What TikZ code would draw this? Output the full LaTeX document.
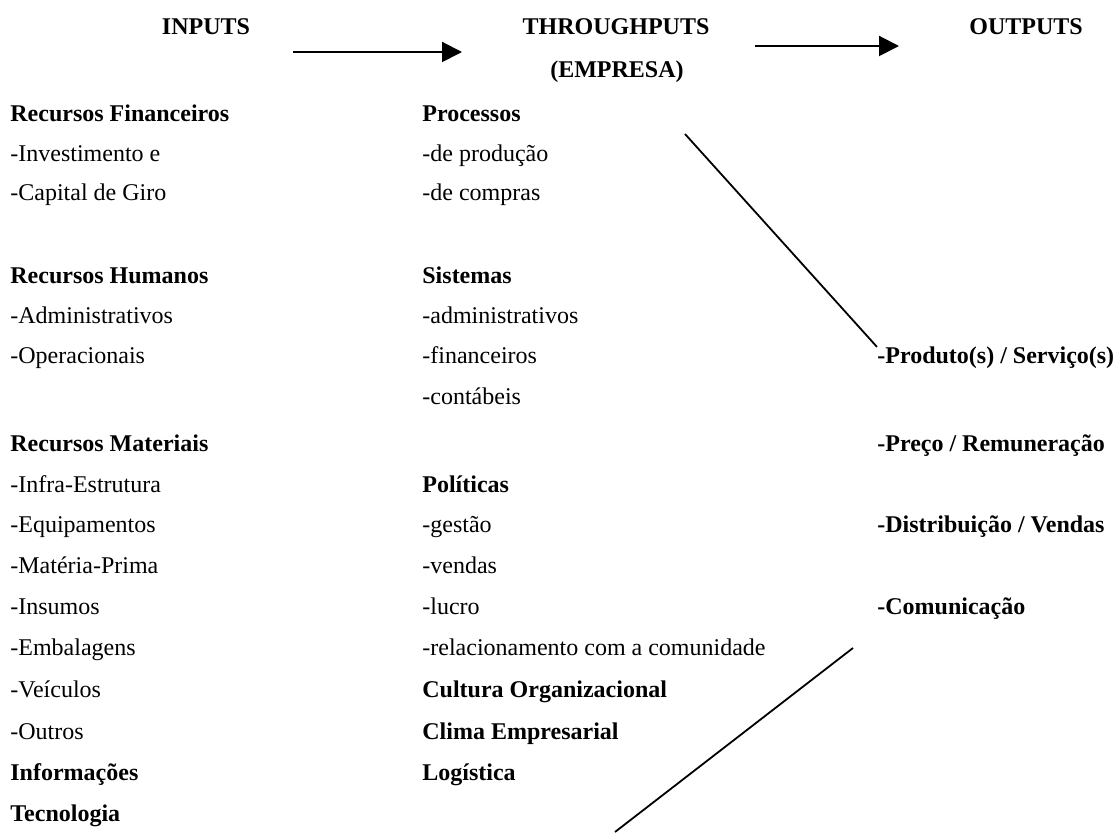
\documentclass[tikz,border=0pt]{standalone}
\usepackage{fontspec}
\setmainfont{Liberation Serif}
\usetikzlibrary{arrows.meta}

\begin{document}
\begin{tikzpicture}[
  x=0.5pt, y=-0.5pt,
  every node/.style={font=\fontsize{12}{14}\selectfont, inner sep=0pt, anchor=base west},
  colhead/.style={font=\fontsize{12}{14}\selectfont\bfseries, anchor=base},
  grouptitle/.style={font=\fontsize{12}{14}\selectfont\bfseries},
  arr/.style={-{Triangle[length=10pt, width=10pt]}, line width=1pt},
  lin/.style={line width=0.9pt},
]
\useasboundingbox (0,0) rectangle (1115,833);

%% ── Column heads ────────────────────────────────────────────────────────────
\node[colhead] (inputs) at (206, 35) {INPUTS};
\node[colhead] (through) at (616, 35) {THROUGHPUTS};
\node[colhead] (empresa) at (617, 78) {(EMPRESA)};
\node[colhead] (outputs) at (1026, 35) {OUTPUTS};

\coordinate (arrAs) at (293, 52);
\coordinate (arrAe) at (462, 52);
\coordinate (arrBs) at (755, 46);
\coordinate (arrBe) at (899, 46);

%% ── Inputs ──────────────────────────────────────────────────────────────────
\node[grouptitle] (recfin) at (10, 122) {Recursos Financeiros};
\node (invest) at (10, 162) {-Investimento e};
\node (capgiro) at (10, 201) {-Capital de Giro};

\node[grouptitle] (rechum) at (10, 284) {Recursos Humanos};
\node (admin) at (10, 324) {-Administrativos};
\node (operac) at (10, 364) {-Operacionais};

\node[grouptitle] (recmat) at (10, 452) {Recursos Materiais};
\node (infra) at (10, 493) {-Infra-Estrutura};
\node (equip) at (10, 533) {-Equipamentos};
\node (matprima) at (10, 574) {-Matéria-Prima};
\node (insumos) at (10, 615) {-Insumos};
\node (embal) at (10, 656) {-Embalagens};
\node (veic) at (10, 698) {-Veículos};
\node (outros) at (10, 740) {-Outros};
\node[grouptitle] (inform) at (10, 781) {Informações};
\node[grouptitle] (tecno) at (10, 822) {Tecnologia};

%% ── Throughputs ─────────────────────────────────────────────────────────────
\node[grouptitle] (proc) at (422, 122) {Processos};
\node (producao) at (422, 162) {-de produção};
\node (compras) at (422, 201) {-de compras};

\node[grouptitle] (sist) at (422, 284) {Sistemas};
\node (sadmin) at (422, 324) {-administrativos};
\node (sfin) at (422, 364) {-financeiros};
\node (scont) at (422, 405) {-contábeis};

\node[grouptitle] (polit) at (422, 493) {Políticas};
\node (gestao) at (422, 533) {-gestão};
\node (vendas) at (422, 574) {-vendas};
\node (lucro) at (422, 615) {-lucro};
\node (relac) at (422, 656) {-relacionamento com a comunidade};
\node[grouptitle] (cultura) at (422, 698) {Cultura Organizacional};
\node[grouptitle] (clima) at (422, 740) {Clima Empresarial};
\node[grouptitle] (logist) at (422, 781) {Logística};

%% ── Outputs ─────────────────────────────────────────────────────────────────
\node[grouptitle] (produto) at (877, 364) {-Produto(s) / Serviço(s)};
\node[grouptitle] (preco) at (877, 452) {-Preço / Remuneração};
\node[grouptitle] (distrib) at (877, 533) {-Distribuição / Vendas};
\node[grouptitle] (comunic) at (877, 615) {-Comunicação};

\coordinate (lineAs) at (685, 134);
\coordinate (lineBs) at (853, 648);
\coordinate (lineBe) at (615, 832);

%% ── Arrows ──────────────────────────────────────────────────────────────────
\draw[arr] (arrAs) -- (arrAe);
\draw[arr] (arrBs) -- (arrBe);

\draw[lin] (lineAs) -- (produto.north west);
\draw[lin] (lineBs) -- (lineBe);

\end{tikzpicture}
\end{document}
